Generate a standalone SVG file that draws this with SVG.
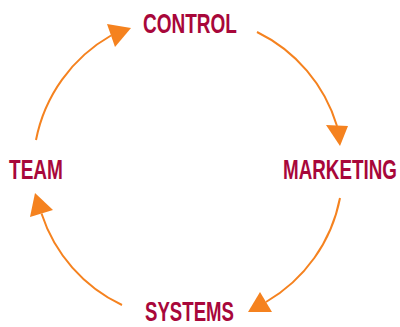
<svg xmlns="http://www.w3.org/2000/svg" width="400" height="327" viewBox="0 0 400 327">
  <style>
    .label { font-family: "Liberation Sans", Arial, sans-serif; font-weight: bold; font-size: 27px; fill: #a8073a; }
    .arc { fill: none; stroke: #f5821f; stroke-width: 2; }
    .head { fill: #f5821f; }
  </style>
  <rect width="400" height="327" fill="#ffffff"/>

  <g id="connectors">
    <!-- control to marketing -->
    <path class="arc" d="M257,32 A154,154 0 0 1 337,126"/>
    <polygon class="head" points="326,125 348,126 340,146"/>
    <!-- marketing to systems -->
    <path class="arc" d="M340,198 A154,154 0 0 1 266,302"/>
    <polygon class="head" points="260,292 272,312 248,312"/>
    <!-- systems to team -->
    <path class="arc" d="M122,305 A154,154 0 0 1 41.5,213.5"/>
    <polygon class="head" points="30,217 53,210 35,193"/>
    <!-- team to control -->
    <path class="arc" d="M36,140 A154,154 0 0 1 111,35.5"/>
    <polygon class="head" points="107,24 115,47 131,28"/>
  </g>

  <!-- labels are set in a condensed cut: bold sans squeezed to ~70% width -->
  <g id="control" transform="translate(143,33) scale(0.704,1)">
    <text class="label" x="0" y="0">CONTROL</text>
  </g>
  <g id="marketing" transform="translate(283,179) scale(0.697,1)">
    <text class="label" x="0" y="0">MARKETING</text>
  </g>
  <g id="systems" transform="translate(145,321) scale(0.69,1)">
    <text class="label" x="0" y="0" font-size="25">SYSTEMS</text>
  </g>
  <g id="team" transform="translate(9,179) scale(0.706,1)">
    <text class="label" x="0" y="0">TEAM</text>
  </g>
</svg>
